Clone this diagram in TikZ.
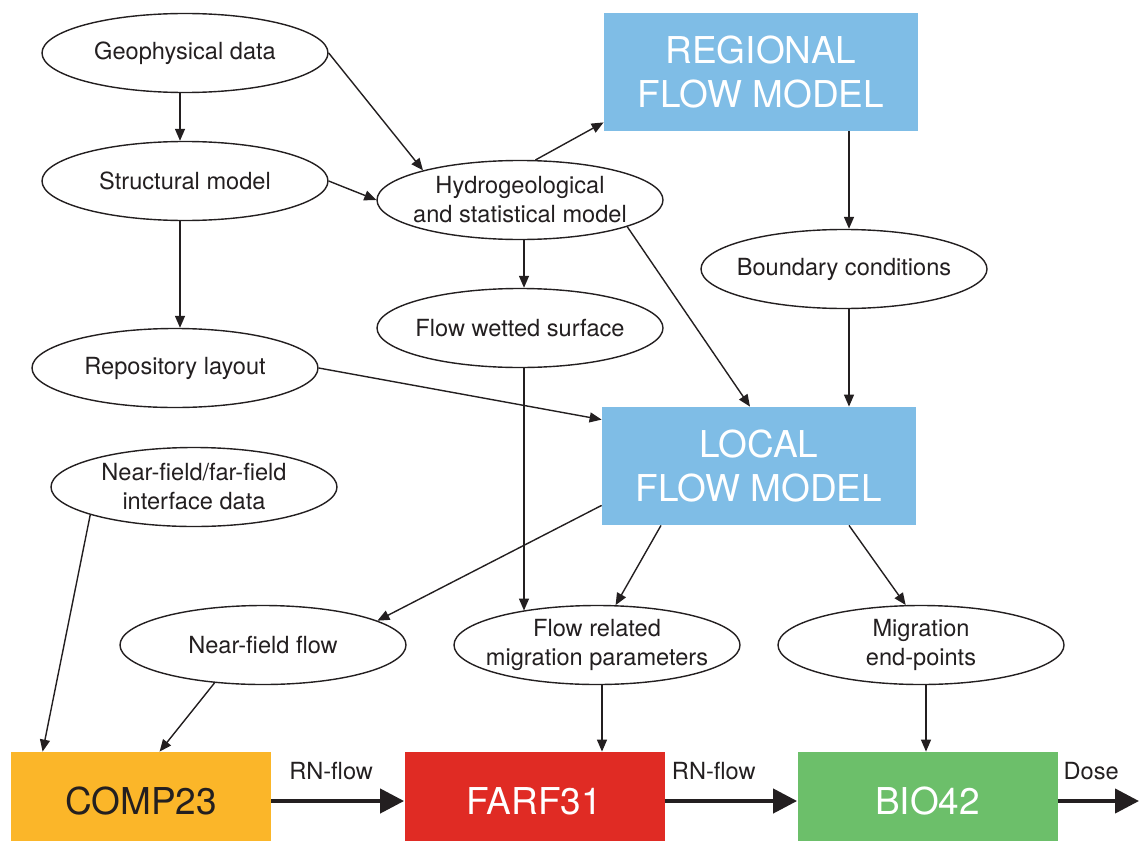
\documentclass[tikz,border=0pt]{standalone}
\usepackage{fontspec}
\setmainfont{TeX Gyre Heros}
\usepackage{tikz}
\usetikzlibrary{shapes.geometric, arrows.meta, positioning, calc}
\definecolor{inkcolor}{RGB}{35, 31, 32}
\definecolor{modelblue}{RGB}{127, 189, 230}
\definecolor{compcolor}{RGB}{251, 182, 41}
\definecolor{farfcolor}{RGB}{224, 43, 36}
\definecolor{biocolor}{RGB}{108, 191, 106}

\tikzset{
    datanode/.style={draw=inkcolor, line width=0.7pt, ellipse, minimum width=143pt, minimum height=39.5pt, inner xsep=-6pt, inner ysep=0pt, align=center, text=inkcolor, font=\fontsize{11.8}{14.5}\selectfont},
    modelbox/.style={fill=modelblue, minimum width=157pt, minimum height=59pt, align=center, text=white, font=\fontsize{18.5}{22}\selectfont},
    codebox/.style={minimum width=130pt, minimum height=49pt, font=\fontsize{18.5}{22}\selectfont},
    link/.style={draw=inkcolor, line width=0.7pt, -{Triangle[length=6pt,width=5pt]}},
    rnlink/.style={draw=inkcolor, line width=2.1pt, -{Triangle[length=12pt,width=12pt]}},
    rnlabel/.style={above=6pt, text=inkcolor, font=\fontsize{11.8}{14.5}\selectfont}
}

\begin{document}
\begin{tikzpicture}[x=0.5pt, y=-0.5pt]
        \useasboundingbox (0,0) rectangle (1139,840);

        % Data nodes
        \node[datanode] (geo) at (185, 53) {Geophysical data};
        \node[datanode] (struct) at (185, 181) {Structural model};
        \node[datanode] (repo) at (175, 368) {Repository layout};
        \node[datanode] (hydro) at (520, 200) {Hydrogeological\\and statistical model};
        \node[datanode] (wetted) at (520, 328) {Flow wetted surface};
        \node[datanode] (bound) at (844, 269) {Boundary conditions};
        \node[datanode] (nfff) at (194, 487) {Near-field/far-field\\interface data};
        \node[datanode] (nfflow) at (263, 645) {Near-field flow};
        \node[datanode] (flowrel) at (597, 645) {Flow related\\migration parameters};
        \node[datanode] (migr) at (921, 645) {Migration\\end-points};

        % Flow models
        \node[modelbox] (regional) at (761, 72) {REGIONAL\\FLOW MODEL};
        \node[modelbox] (local) at (759, 466) {LOCAL\\FLOW MODEL};

        % Codes
        \node[codebox, fill=compcolor, text=inkcolor] (comp) at (141, 801) {COMP23};
        \node[codebox, fill=farfcolor, text=white] (farf) at (534.5, 801) {FARF31};
        \node[codebox, fill=biocolor, text=white] (bio) at (927.5, 801) {BIO42};
        \coordinate (dose) at (1139, 801);

        % Connections
        \draw[link] ([xshift=-2.5pt]geo.south) -- ([xshift=-2.5pt]struct.north);
        \draw[link] (geo.east) -- (hydro.163);
        \draw[link] (struct.east) -- (hydro.west);
        \draw[link] ([xshift=-2.5pt]struct.south) -- ([xshift=-2.5pt]struct.south |- repo.north);
        \draw[link] (hydro.69) -- ([yshift=4.5pt]regional.south west);
        \draw[link] ([xshift=2pt]hydro.south) -- ([xshift=2pt]wetted.north);
        \draw[link] (hydro.-14) -- ([xshift=-4.5pt]local.north);
        \draw[link] (repo.east) -- ([yshift=-6.5pt]local.north west);
        \draw[link] ([xshift=2.5pt]bound.north |- regional.south) -- ([xshift=2.5pt]bound.north);
        \draw[link] ([xshift=2.5pt]bound.south) -- ([xshift=2.5pt]bound.south |- local.north);
        \draw[link] ([xshift=2pt]wetted.south) -- ([xshift=2pt]wetted.south |- flowrel.155);
        \draw[link] ([yshift=10pt]local.south west) -- (nfflow.12);
        \draw[link] ([xshift=-49pt]local.south) -- (flowrel.65);
        \draw[link] ([xshift=45pt]local.south) -- (migr.111);
        \draw[link] (nfff.195) -- ([xshift=16pt]comp.north west);
        \draw[link] (nfflow.218) -- ([xshift=74.5pt]comp.north west);
        \draw[link] ([xshift=2.5pt]flowrel.south) -- ([xshift=2.5pt]flowrel.south |- farf.north);
        \draw[link] ([xshift=2.5pt]migr.south) -- ([xshift=2.5pt]migr.south |- bio.north);

        % RN-flow chain
        \draw[rnlink] (comp.east) -- node[rnlabel, pos=0.45] {RN-flow} (farf.west);
        \draw[rnlink] (farf.east) -- node[rnlabel, pos=0.37] {RN-flow} (bio.west);
        \draw[rnlink] (bio.east) -- node[rnlabel, pos=0.41] {Dose} (dose);
    \end{tikzpicture}
\end{document}
